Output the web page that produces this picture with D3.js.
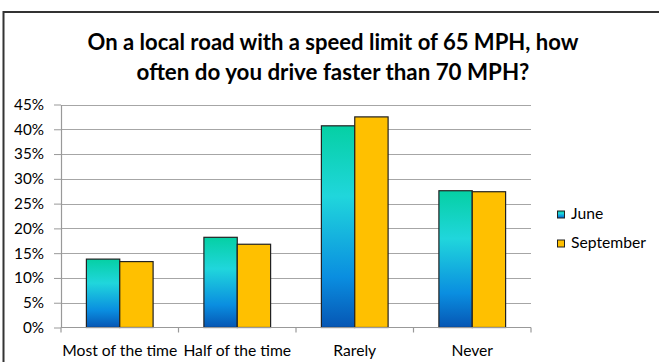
<!DOCTYPE html>
<html><head><meta charset="utf-8">
<script src="https://cdn.jsdelivr.net/npm/d3@7"></script>
<style>body{margin:0;background:#fff}svg{display:block}</style>
</head><body>
<script>
const categories = ["Most of the time", "Half of the time", "Rarely", "Never"];
const seriesNames = ["June", "September"];
const june = [13.8, 18.2, 40.7, 27.6];
const september = [13.3, 16.8, 42.5, 27.4];
const yTicks = [0, 5, 10, 15, 20, 25, 30, 35, 40, 45];
const titleLines = ["On a local road with a speed limit of 65 MPH, how", "often do you drive faster than 70 MPH?"];

const W = 659, H = 362;
const font = "Lato, 'Open Sans', sans-serif";
const svg = d3.select("body").append("svg").attr("width", W).attr("height", H);

function fitSize(sel, base, target) {
  const w = sel.node().getComputedTextLength();
  return base * target / w;
}

const defs = svg.append("defs");
const g1 = defs.append("linearGradient").attr("id", "gJune").attr("x1", 0).attr("y1", 0).attr("x2", 0).attr("y2", 1);
g1.append("stop").attr("offset", "0%").attr("stop-color", "#05d0a4");
g1.append("stop").attr("offset", "35%").attr("stop-color", "#20d6dc");
g1.append("stop").attr("offset", "75%").attr("stop-color", "#0a8ee0");
g1.append("stop").attr("offset", "100%").attr("stop-color", "#0656b4");

// outer frame
svg.append("path").attr("d", `M3.5,${H} L3.5,12 L${W},12`).attr("fill", "none").attr("stroke", "#333").attr("stroke-width", 2);

// title
const tw = [491, 393];
titleLines.forEach((t, i) => {
  const tx = svg.append("text").attr("x", 333).attr("y", 50 + i * 30).attr("text-anchor", "middle")
    .attr("font-family", font).attr("font-weight", "bold").attr("font-size", 20).attr("fill", "#000").text(t);
  tx.attr("font-size", fitSize(tx, 20, tw[i]));
});

const x0 = d3.scaleBand().domain(categories).range([61, 531]).paddingInner(0).paddingOuter(0);
const x1 = d3.scaleBand().domain(seriesNames).range([0, 66.7]);
const y = d3.scaleLinear().domain([0, 45]).range([327.5, 104.5]);

// grid
svg.append("g").selectAll("line").data(yTicks.filter(d => d > 0)).join("line")
  .attr("x1", 61).attr("x2", 531).attr("y1", d => Math.round(y(d)) + 0.5).attr("y2", d => Math.round(y(d)) + 0.5)
  .attr("stroke", "#a6a6a6").attr("stroke-width", 1.2);

// y axis
const ya = svg.append("g").attr("transform", "translate(61,0)")
  .call(d3.axisLeft(y).tickValues(yTicks).tickFormat(d => d + "%").tickSize(7).tickSizeOuter(0));
ya.select(".domain").attr("stroke", "#999").attr("stroke-width", 1.2);
ya.selectAll(".tick line").attr("stroke", "#999");
ya.selectAll("text").attr("font-family", font).attr("font-size", 12.5).attr("fill", "#000").attr("x", -17);
const y45 = ya.selectAll("text").filter(d => d === 45);
const ySize = fitSize(y45, 12.5, 30);
ya.selectAll("text").attr("font-size", ySize);

// bars
const data = categories.map((c, i) => ({ c, vals: [{ s: "June", v: june[i] }, { s: "September", v: september[i] }] }));
const off = (x0.bandwidth() - 66.7) / 2;
const grp = svg.append("g").selectAll("g").data(data).join("g").attr("transform", d => `translate(${x0(d.c) + off},0)`);
grp.selectAll("rect").data(d => d.vals).join("rect")
  .attr("x", d => x1(d.s)).attr("width", x1.bandwidth())
  .attr("y", d => y(d.v)).attr("height", d => y(0) - y(d.v))
  .attr("fill", d => d.s === "June" ? "url(#gJune)" : "#ffc000")
  .attr("stroke", "#222").attr("stroke-width", 1.2);

// x axis
const xa = svg.append("g").attr("transform", `translate(0,${y(0)})`);
xa.append("line").attr("x1", 61).attr("x2", 531).attr("stroke", "#999").attr("stroke-width", 1.2);
const bounds = [61, 178.5, 296, 413.5, 531];
xa.selectAll(".xt").data(bounds).join("line").attr("class", "xt")
  .attr("x1", d => d).attr("x2", d => d).attr("y1", 0).attr("y2", 5).attr("stroke", "#999").attr("stroke-width", 1.2);
const xl = xa.selectAll("text").data(categories).join("text")
  .attr("x", d => x0(d) + x0.bandwidth() / 2).attr("y", 28).attr("text-anchor", "middle")
  .attr("font-family", font).attr("font-size", 13.5).attr("fill", "#000").text(d => d);
const xSize = fitSize(xl.filter((d, i) => i === 0), 13.5, 115);
xl.attr("font-size", xSize);

// legend
const leg = svg.append("g");
const legTexts = [];
seriesNames.forEach((s, i) => {
  const ly = 211 + i * 29;
  leg.append("rect").attr("x", 557.5).attr("y", ly).attr("width", 7).attr("height", 7)
    .attr("fill", s === "June" ? "url(#gJune)" : "#ffc000").attr("stroke", "#222").attr("stroke-width", 1);
  legTexts.push(leg.append("text").attr("x", 571).attr("y", ly + 8).attr("font-family", font).attr("font-size", 13).attr("fill", "#000").text(s));
});
const lSize = fitSize(legTexts[1], 13, 75);
legTexts.forEach(t => t.attr("font-size", lSize));
</script>
</body></html>
